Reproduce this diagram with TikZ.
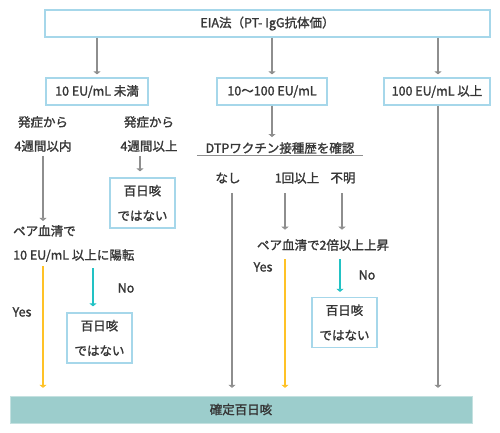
\documentclass[tikz,border=0pt]{standalone}
\usepackage{fontspec}
\setmainfont{Noto Sans CJK JP}[FakeBold=1.6]
\usepackage{xcolor}
\usetikzlibrary{arrows.meta, positioning, calc}

\definecolor{boxline}{HTML}{A6D7EA}
\definecolor{flowgray}{HTML}{8E8E8E}
\definecolor{flowteal}{HTML}{22C2C4}
\definecolor{flowamber}{HTML}{FFC226}
\definecolor{barfill}{HTML}{9CCDCC}
\definecolor{inkgray}{HTML}{363636}

\begin{document}
\begin{tikzpicture}[
    x=1pt, y=-1pt,
    every node/.style={text=inkgray, font=\fontsize{12.5}{14}\selectfont},
    stagebox/.style={draw=boxline, line width=1.2pt, minimum height=27pt, inner sep=1pt, align=center},
    verdictbox/.style={draw=boxline, line width=1.2pt, minimum width=65pt, minimum height=50pt, inner sep=1pt, align=center, font=\fontsize{12.5}{25}\selectfont},
    note/.style={inner sep=1pt, align=center, font=\fontsize{12.5}{24}\selectfont},
    flow/.style={-{Triangle[width=7pt,length=3pt]}, line width=1.4pt},
    ]
    \useasboundingbox (0,0) rectangle (500,432);

    % EIA result and the three ranges
    \node[stagebox, minimum width=445pt] (eia) at (267.5,23.5) {EIA法（PT- IgG抗体価）};
    \node[stagebox, minimum width=102pt] (low) at (97,91.5) {10 EU/mL 未満};
    \node[stagebox, minimum width=110pt] (mid) at (272,91.5) {10～100 EU/mL};
    \node[stagebox, minimum width=106pt] (high) at (437,91.5) {100 EU/mL 以上};

    % Final result bar
    \node[fill=barfill, draw=barfill!60!white, minimum width=462pt, minimum height=27pt, inner sep=1pt] (sure) at (241,409.5) {確定百日咳};

    % Left branch: below 10 EU/mL
    \node[note] (onsetin) at (43,134) {発症から\\4週間以内};
    \node[note] (onsetout) at (149,134) {発症から\\4週間以上};
    \node[verdictbox] (notA) at (142.5,203) {百日咳\\ではない};
    \node[note, align=left, anchor=west] (pairA) at (12,243.5) {ペア血清で\\10 EU/mL 以上に陽転};
    \node[verdictbox] (notB) at (99.5,338) {百日咳\\ではない};
    \node (yesA) at (22,312) {Yes};
    \node (noA) at (126,288) {No};

    % Middle branch: 10 to 100 EU/mL
    \node[inner sep=2pt, minimum width=166pt] (dtp) at (280,148) {DTPワクチン接種歴を確認};
    \node (none) at (228,178) {なし};
    \node (once) at (297,178) {1回以上};
    \node (unknown) at (343,178) {不明};
    \node (pairB) at (323,245) {ペア血清で2倍以上上昇};
    \node[verdictbox] (notC) at (344.5,322.5) {百日咳\\ではない};
    \node (yesB) at (263,267) {Yes};
    \node (noB) at (367,275) {No};

    % Arrows from the EIA box
    \draw[flow, flowgray, shorten >=3pt] (eia.south -| low) -- (low.north);
    \draw[flow, flowgray, shorten >=3pt] (eia.south -| mid) -- (mid.north);
    \draw[flow, flowgray, shorten >=3pt] ($(eia.south -| high)+(1,0)$) -- ($(high.north)+(1,0)$);

    % Left branch arrows
    \draw[flow, flowgray, shorten <=3pt, shorten >=3pt] (onsetin.south) -- (onsetin.south |- pairA.north);
    \draw[flow, flowgray, shorten <=3pt, shorten >=6pt] ($(onsetout.south)+(-9,0)$) -- ($(onsetout.south |- notA.north)+(-9,0)$);
    \draw[flow, flowamber, shorten <=3pt, shorten >=8pt] (pairA.south -| onsetin) -- (sure.north -| onsetin);
    \draw[flow, flowteal, shorten <=5pt, shorten >=6pt] ($(pairA.south -| notB)+(-6.5,0)$) -- ($(notB.north)+(-6.5,0)$);

    % Middle branch arrows
    \draw[flow, flowgray, shorten >=3pt] (mid.south) -- (mid.south |- dtp.north);
    \draw[flowgray, line width=1pt] (dtp.south west) -- (dtp.south east);
    \draw[flow, flowgray, shorten <=6pt, shorten >=8pt] ($(none.south)+(4,0)$) -- ($(none.south |- sure.north)+(4,0)$);
    \draw[flow, flowgray, shorten <=6pt, shorten >=6pt] ($(once.south)+(-12,0)$) -- ($(once.south |- pairB.north)+(-12,0)$);
    \draw[flow, flowgray, shorten <=6pt, shorten >=6pt] ($(unknown.south)+(-1,0)$) -- ($(unknown.south |- pairB.north)+(-1,0)$);
    \draw[flow, flowamber, shorten <=5pt, shorten >=8pt] ($(pairB.south)+(-38,0)$) -- ($(pairB.south |- sure.north)+(-38,0)$);
    \draw[flow, flowteal, shorten <=5pt, shorten >=5pt] ($(pairB.south)+(17,0)$) -- ($(pairB.south |- notC.north)+(17,0)$);

    % Right branch arrow
    \draw[flow, flowgray, shorten >=8pt] ($(high.south)+(1,0)$) -- ($(high.south |- sure.north)+(1,0)$);
\end{tikzpicture}
\end{document}
